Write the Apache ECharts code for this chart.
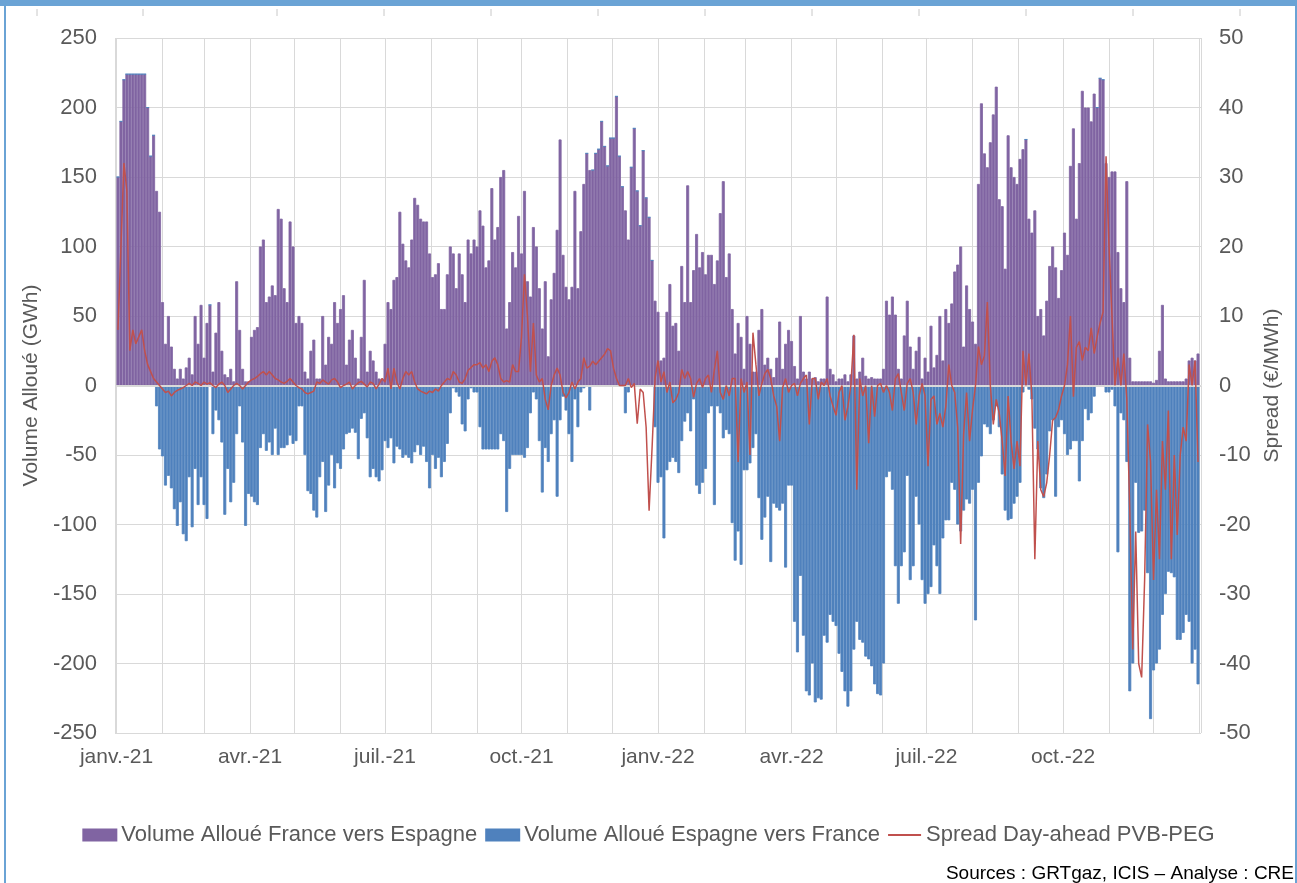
<!DOCTYPE html>
<html>
<head>
<meta charset="utf-8">
<title>Volumes alloués France-Espagne et spread PVB-PEG</title>
<script src="https://cdn.jsdelivr.net/npm/echarts@6/dist/echarts.min.js"></script>
<style>
  html, body { margin: 0; padding: 0; background: #fff; }
  #chart { width: 1297px; height: 883px; }
</style>
</head>
<body>
<div id="chart"></div>
<script>
// valeurs lues par pas de 2 jours, à partir du 1er janvier 2021
var startDate = [2021, 0, 1];
var stepDays = 2;

// Volume Alloué France vers Espagne (GWh)
var frEs2021 = [150,190,220,224,224,224,224,224,224,224,
  200,165,180,140,125,60,30,50,28,12,
  5,12,5,13,20,8,50,30,58,20,
  45,58,10,38,60,25,8,6,12,3,
  75,40,12,3,3,35,40,42,100,105,
  60,64,72,65,127,120,70,60,118,100,
  45,50,45,10,5,25,33,5,5,50,
  15,35,30,60,45,55,65,15,33,40,
  20,5,35,76,10,25,18,10,5,5,
  30,60,55,76,78,125,102,90,85,105,
  135,130,120,118,118,95,78,80,88,55,
  55,80,100,95,70,95,80,60,105,95,
  105,100,126,115,85,90,142,105,114,150,
  155,41,60,96,85,122,95,140,75,64,
  114,100,70,41,75,21,62,81,112,177,
  94,71,62,71,140,70,111,145,167,155,
  155,167,170,190,172,158,178,178,208,165,
  143,126,105,157,185,140,115,169,135,121,
  90,61,53];
var frEs2022 = [18,20,53,73,43,45,25,86,60,144,
  60,83,109,85,96,80,94,94,73,90,
  124,147,78,95,55,23,45,35,12,50,
  30,10,10,40,55,15,20,12,6,20,
  46,12,30,40,32,14,5,50,10,5,
  10,5,6,3,5,5,64,12,8,3,
  5,5,8,3,8,36,5,10,20,7,
  5,6,5,5,5,12,61,51,64,51,
  12,5,36,61,28,12,25,35,5,20,
  10,43,13,22,50,18,55,45,59,82,
  87,100,28,72,55,46,30,145,203,167,
  157,175,195,215,134,129,84,180,157,150,
  145,163,170,177,120,110,126,50,55,36,
  61,86,100,85,63,83,110,94,158,185,
  120,160,212,200,200,190,210,200,221,220,
  160,150,154,154,96,70,60,147,20,3,
  3,3,3,3,3,3,2,4,25,58,
  5,3,3,3,3,3,3,5,18,20,
  18,23];

// Volume Alloué Espagne vers France (GWh)
var esFr2021 = [0,0,0,0,0,0,0,0,0,0,
  0,0,0,-15,-46,-51,-72,-65,-74,-89,
  -101,-84,-107,-112,-66,-102,-60,-86,-66,-86,
  -96,0,-35,-18,-25,-41,-93,-60,-84,-70,
  -35,-15,-41,-101,-78,-80,-84,-86,-45,-35,
  -47,-41,-50,-31,-50,-45,-45,-43,-36,-42,
  -40,-15,-15,-50,-76,-78,-90,-95,-66,-55,
  -91,-72,-50,-74,-56,-60,-46,-35,-34,-31,
  -34,-53,-24,-20,-38,-66,-60,-66,-69,-61,
  -40,-45,-38,-56,-44,-46,-52,-50,-52,-56,
  -48,-43,-50,-44,-55,-74,-50,-60,-52,-66,
  -55,-42,-20,-2,-5,-8,-28,-33,-10,-2,
  -5,-5,-30,-46,-46,-46,-46,-46,-46,-35,
  -40,-91,-60,-50,-50,-50,-50,-52,-45,-20,
  -5,-10,-40,-77,-45,-55,-35,-25,-80,-25,
  -8,-18,-35,-55,-10,-30,-5,-2,0,-18,
  0,0,0,0,0,0,0,0,0,0,
  0,-20,-5,0,0,0,0,0,0,0,
  0,-30,-70];
var esFr2022 = [-66,-110,-61,-55,-52,-55,-63,-40,-26,-20,
  -33,-10,-72,-78,-70,-60,-20,-15,-86,-15,
  -20,-38,-32,-35,-99,-126,-105,-129,-61,-61,
  -56,-45,-35,-81,-111,-95,-80,-127,-85,-88,
  -90,-85,-131,-72,-72,-170,-192,-137,-180,-220,
  -223,-200,-228,-225,-226,-180,-185,-165,-170,-173,
  -193,-206,-220,-231,-220,-190,-170,-183,-185,-195,
  -197,-202,-215,-222,-223,-200,-66,-62,-75,-130,
  -157,-130,-120,-65,-140,-130,-80,-100,-140,-157,
  -150,-145,-115,-130,-150,-110,-97,-97,-70,-75,
  -100,-105,-90,-82,-85,-75,-169,-70,-51,-28,
  -30,-35,-25,-15,-30,-64,-90,-97,-96,-85,
  -80,-70,-5,0,-3,-10,-31,-46,-74,-81,
  -64,-33,-25,-80,-30,-25,-35,-50,-46,-40,
  -40,-69,-40,-17,-25,-20,-8,0,0,0,
  -5,-5,-3,-15,-120,-20,-25,-55,-220,-200,
  -70,-106,-105,-90,-135,-240,-205,-200,-190,-165,
  -150,-134,-135,-138,-183,-183,-178,-165,-170,-200,
  -190,-215];

// Spread Day-ahead PVB-PEG (€/MWh)
var spread2021 = [8,20,32,28,5,8,6,7,8,5,
  3,2,1,0.5,0,-0.5,-1,-0.8,-1.5,-1,
  -0.7,-0.5,-0.3,0,0.3,0,0.5,0.3,0,0.5,
  0.2,0.4,0,-0.3,0.2,0.5,0,-1,-0.5,0,
  0.3,0,-0.5,0,0.5,0.8,1,1.3,1.7,2,
  1.5,2,1.5,1,0.8,0.5,0.3,0.6,1,0.5,
  0,-0.3,-0.5,-1,-1.2,-1,-0.8,0.5,0.3,0.8,
  0.5,0.2,0.8,1,0.5,-0.3,0,0.2,0.5,-0.5,
  0,0.4,0.6,0.2,-0.2,0.5,0.3,-0.5,0.2,1,
  0.5,2.5,-0.5,2.5,0.5,-0.5,1,2,1.5,2,
  0.5,-0.5,-0.8,-1,-1.2,-0.8,-1,-0.5,-0.8,0,
  0.5,1,0.8,2,1.5,0.5,0.3,1,2.2,2.6,
  3,3,3.3,2.5,3,2,3.5,4,3,1,
  0.5,0.7,0.5,3,2,2,7,16,10,2,
  9,1.5,0.5,1,-2,-3.5,0,1.5,2.5,1.5,
  -1,-1.8,-1,0.5,-0.5,0.5,1,4,2.5,2.8,
  3.5,3,3.5,4,4.5,5.3,5,2.5,1,0,
  0,0,1,-0.3,0.3,-5.5,-0.5,-1,-6,-18,
  -9,1,3.6];
var spread2022 = [0.5,2,-1,0.5,-2.5,-2,-1,2.3,1,2,
  1,-1.7,0.3,1,-0.3,1,1.5,-1,2.3,5,
  -1,-2,0,-1.5,1,1,-11,1,-1,0.5,
  -10,7.6,3,-1.5,0.3,1.7,2.3,1,-1.5,-3,
  -8,-0.3,1,-1,0,0.3,-1.5,0.3,1,1.5,
  -5.6,1,1,-2,0.5,0,1,-1.5,-3,-4.3,
  -1,0,-5,-3,0,7.3,-15,1,-1.5,0,
  -8.3,0,-4.5,0,0.3,-1,0,-1,-3.6,1,
  1.7,-1,-3.6,0.3,1,-1,-5.6,-1.5,0.3,-1.5,
  -11.6,-2,-1.5,-5.6,-4,-6,-3,3,0,-1,
  -6,-22.8,-7,-1,-8,-3.5,0,5.6,3,4.3,
  12,0,-5.6,-2,-4,-8,-13,-1.5,-8,-12,
  -8,-11.6,5,0,4.6,-1.5,-25,-8,-15,-16,
  -14,-10,-5,-4.6,-3.5,-1.5,0,3,10,-1.6,
  5.5,6.3,3.6,5.5,5,8.3,4.6,7,9,10.6,
  33,20,10,0,4,0,4.6,-2,-18,-38,
  -21,-40,-42,-28,-5.6,-11,-28,-15,-25,-8,
  -15,-3.6,-25,-10,-21.5,-10,-6,-8,3,0,
  3.6,-11];

var moisFr = ['janv.', 'févr.', 'mars', 'avr.', 'mai', 'juin', 'juil.', 'août', 'sept.', 'oct.', 'nov.', 'déc.'];
var seriesNames = ['Volume Alloué France vers Espagne', 'Volume Alloué Espagne vers France', 'Spread Day-ahead PVB-PEG'];

var FONT = "'Liberation Sans', Arial, sans-serif";
var DAY = 86400000;
var xMin = new Date(2021, 0, 1).getTime();
var xMax = new Date(2023, 0, 1).getTime();

// chaque barre couvre 2 jours : on la centre sur le milieu de l'intervalle
function dateOf(i) {
  return new Date(startDate[0], startDate[1], startDate[2] + i * stepDays + 1).getTime();
}
function toPairs(values) {
  return values.map(function (v, i) { return [dateOf(i), v]; });
}

var frEs = toPairs(frEs2021.concat(frEs2022));
var esFr = toPairs(esFr2021.concat(esFr2022));
var spread = toPairs(spread2021.concat(spread2022));

var chart = echarts.init(document.getElementById('chart'), null, { renderer: 'canvas' });

// largeur d'une barre = 2 jours dans la zone de tracé (1086 px pour 730 jours)
var barPx = 1086 / 730 * stepDays;

// petits traits gris sous le bandeau
var ticksTop = [37, 143, 277, 384, 491, 598, 705, 812, 919, 1026, 1133, 1240];
var decor = [
  { type: 'rect', shape: { x: 0, y: 0, width: 1297, height: 6 }, style: { fill: '#6aa3d5' }, silent: true },
  { type: 'rect', shape: { x: 4, y: 0, width: 2, height: 883 }, style: { fill: '#6aa3d5' }, silent: true },
  { type: 'rect', shape: { x: 1295, y: 0, width: 2, height: 883 }, style: { fill: '#6aa3d5' }, silent: true },
  {
    type: 'text', right: 3, top: 864, silent: true,
    style: { text: 'Sources : GRTgaz, ICIS – Analyse : CRE', fill: '#000', font: '19px ' + FONT }
  }
];
ticksTop.forEach(function (x) {
  decor.push({ type: 'line', shape: { x1: x, y1: 9, x2: x, y2: 16 }, style: { stroke: '#c8c8c8', lineWidth: 1 }, silent: true });
});

var option = {
  animation: false,
  backgroundColor: '#fff',
  textStyle: { fontFamily: FONT },
  grid: { left: 115, right: 96, top: 38, bottom: 150 },
  legend: {
    top: 819,
    left: 'center',
    itemWidth: 33,
    itemHeight: 11,
    itemGap: 8,
    textStyle: { color: '#595959', fontSize: 22, fontFamily: FONT },
    data: [
      { name: seriesNames[0], icon: 'rect' },
      { name: seriesNames[1], icon: 'rect' },
      { name: seriesNames[2], icon: 'path://M0,0H33V2H0Z' }
    ]
  },
  xAxis: {
    type: 'time',
    min: xMin,
    max: xMax,
    splitNumber: 24,
    minInterval: 28 * DAY,
    maxInterval: 31 * DAY,
    axisLine: { show: false },
    axisTick: { show: false },
    splitLine: { show: true, lineStyle: { color: '#d9d9d9', width: 1 } },
    axisLabel: {
      color: '#595959',
      fontSize: 21,
      fontFamily: FONT,
      margin: 14,
      formatter: function (value) {
        var d = new Date(value);
        if (value >= xMax || d.getDate() !== 1 || d.getMonth() % 3 !== 0) return '';
        return moisFr[d.getMonth()] + '-' + String(d.getFullYear()).slice(2);
      }
    }
  },
  yAxis: [
    {
      type: 'value',
      min: -250, max: 250, interval: 50,
      name: 'Volume Alloué (GWh)',
      nameLocation: 'middle',
      nameGap: 62,
      nameTextStyle: { color: '#595959', fontSize: 21, fontFamily: FONT },
      axisLine: { show: false },
      axisTick: { show: false },
      splitLine: { lineStyle: { color: '#d9d9d9', width: 1 } },
      axisLabel: { color: '#595959', fontSize: 22, fontFamily: FONT, margin: 18 }
    },
    {
      type: 'value',
      min: -50, max: 50, interval: 10,
      name: 'Spread (€/MWh)',
      nameLocation: 'middle',
      nameGap: 58,
      nameRotate: 90,
      nameTextStyle: { color: '#595959', fontSize: 21, fontFamily: FONT },
      axisLine: { show: false },
      axisTick: { show: false },
      splitLine: { show: false },
      axisLabel: { color: '#595959', fontSize: 22, fontFamily: FONT, margin: 18 }
    }
  ],
  series: [
    {
      name: seriesNames[0],
      type: 'bar',
      stack: 'vol',
      barWidth: barPx,
      // bordure de la même couleur pour boucher les interstices d'anticrénelage
      itemStyle: { color: '#8064a2', borderColor: '#8064a2', borderWidth: 0.8 },
      data: frEs
    },
    {
      name: seriesNames[1],
      type: 'bar',
      stack: 'vol',
      barWidth: barPx,
      itemStyle: { color: '#4f81bd', borderColor: '#4f81bd', borderWidth: 0.8 },
      data: esFr,
      markLine: {
        silent: true,
        symbol: 'none',
        z: 3,
        label: { show: false },
        lineStyle: { color: '#d9d9d9', width: 2, type: 'solid' },
        data: [{ yAxis: 0 }]
      }
    },
    {
      name: seriesNames[2],
      type: 'line',
      yAxisIndex: 1,
      z: 4,
      symbol: 'none',
      color: '#c0504d',
      lineStyle: { color: '#c0504d', width: 1.5 },
      data: spread
    }
  ],
  graphic: decor
};

chart.setOption(option);
</script>
</body>
</html>
